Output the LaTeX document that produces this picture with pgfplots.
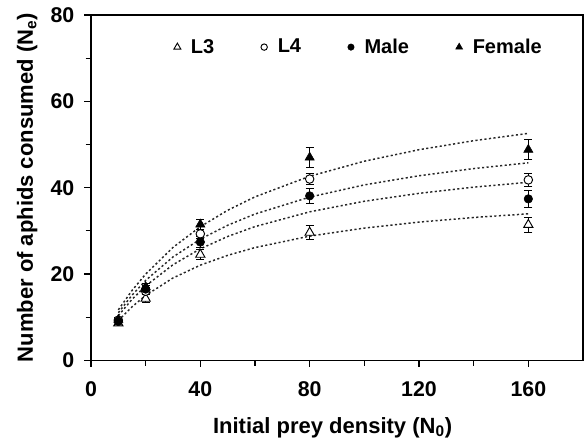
\documentclass[border=0pt]{standalone}
\usepackage{pgfplots}
\pgfplotsset{compat=1.18}
\usepackage{fontspec}
\setmainfont{Liberation Sans}

\begin{document}
\begin{tikzpicture}
\begin{axis}[
    name=ax,
    scale only axis,
    width=369pt, height=259pt,
    xmin=0, xmax=180, ymin=0, ymax=80,
    xtick={0,40,...,160}, minor xtick={20,60,100,140},
    ytick={0,20,...,80}, minor ytick={10,30,50,70},
    tick align=outside, xtick pos=bottom, ytick pos=left,
    major tick length=5pt, minor tick length=4pt,
    tick style={black, line width=0.8pt},
    axis line style={line width=0.8pt},
    /pgf/number format/assume math mode=true,
    tick label style={font=\fontsize{16}{16}\selectfont\bfseries},
    yticklabel shift=4pt,
    xticklabel style={yshift=-7.5pt},
    xlabel={Initial prey density (N\textsubscript{0})},
    ylabel={Number of aphids consumed (N\textsubscript{e})},
    xlabel style={font=\fontsize{16.5}{16.5}\selectfont\bfseries,
        at={(axis description cs:0.491,-0.212)}, anchor=base},
    ylabel style={font=\fontsize{16.5}{16.5}\selectfont\bfseries,
        at={(axis description cs:-0.118,0.5)}, anchor=base},
    legend style={at={(axis description cs:0.545,0.907)}, anchor=center,
        draw=none, fill=none, legend columns=-1,
        font=\fontsize{15}{15}\selectfont\bfseries,
        /tikz/every even column/.append style={column sep=33pt}},
    legend image code/.code={\draw[#1, /tikz/every mark/.append style={scale=0.75}] plot coordinates {(0pt,0pt)}; \path (8pt,0pt);},
    error bars/y dir=both, error bars/y explicit,
    error bars/error bar style={black, line width=0.7pt},
    error bars/error mark options={rotate=90, black, mark size=3pt, line width=0.7pt},
]
% fitted curves
\addplot[forget plot, black!85, line width=1.1pt, dash pattern=on 1.6pt off 1.8pt]
  coordinates {(10,9.19) (15,12.40) (20,15.03) (30,19.08) (40,22.05) (50,24.32) (60,26.12)
    (80,28.77) (100,30.64) (120,32.02) (140,33.09) (160,33.94)};
\addplot[forget plot, black!85, line width=1.1pt, dash pattern=on 1.6pt off 1.8pt]
  coordinates {(10,11.02) (15,15.09) (20,18.52) (30,23.95) (40,28.07) (50,31.29) (60,33.89)
    (80,37.81) (100,40.64) (120,42.76) (140,44.42) (160,45.76)};
\addplot[forget plot, black!85, line width=1.1pt, dash pattern=on 1.6pt off 1.8pt]
  coordinates {(10,10.35) (15,14.11) (20,17.24) (30,22.15) (40,25.83) (50,28.69) (60,30.98)
    (80,34.40) (100,36.85) (120,38.68) (140,40.11) (160,41.25)};
\addplot[forget plot, black!85, line width=1.1pt, dash pattern=on 1.6pt off 1.8pt]
  coordinates {(10,11.70) (15,16.17) (20,19.98) (30,26.16) (40,30.95) (50,34.76) (60,37.87)
    (80,42.64) (100,46.13) (120,48.79) (140,50.88) (160,52.58)};
% observed means
\addplot[only marks, mark=triangle*, mark size=4pt, mark options={fill=white, draw=black, line width=0.7pt}]
  coordinates {(10,8.6) +- (0,0.6) (20,14.3) +- (0,0.9) (40,24.5) +- (0,1.2) (80,29.6) +- (0,1.6) (160,31.4) +- (0,1.8)};
\addplot[only marks, mark=*, mark size=3.2pt, mark options={fill=white, draw=black, line width=0.7pt}]
  coordinates {(10,9.3) +- (0,0.6) (20,16.0) +- (0,0.8) (40,29.3) +- (0,1.1) (80,42.0) +- (0,1.3) (160,41.8) +- (0,1.5)};
\addplot[only marks, mark=*, mark size=3.2pt, mark options={fill=black, draw=black}]
  coordinates {(10,9.0) +- (0,0.6) (20,16.5) +- (0,0.8) (40,27.4) +- (0,1.2) (80,38.1) +- (0,1.7) (160,37.4) +- (0,1.9)};
\addplot[only marks, mark=triangle*, mark size=4pt, mark options={fill=black, draw=black}]
  coordinates {(10,9.4) +- (0,0.6) (20,17.0) +- (0,0.9) (40,31.5) +- (0,1.2) (80,47.0) +- (0,2.4) (160,48.8) +- (0,2.3)};
\legend{L3, L4, Male, Female}
\end{axis}
\pgfresetboundingbox
\path[use as bounding box] ([shift={(-68.25pt,-60.2pt)}]ax.south west) rectangle ([shift={(1.5pt,11.25pt)}]ax.north east);
\end{tikzpicture}
\end{document}
